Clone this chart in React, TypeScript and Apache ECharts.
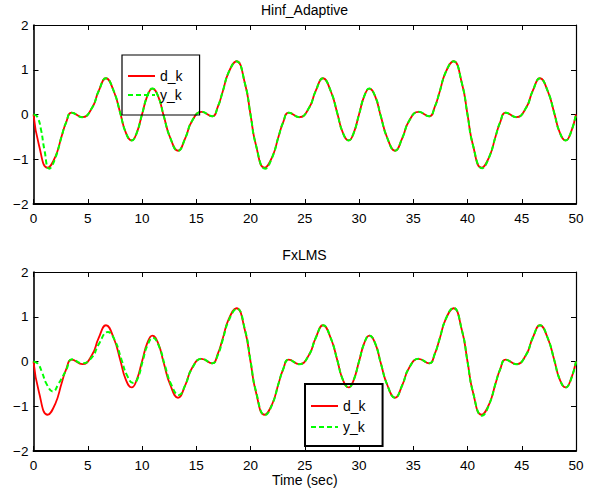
import React, { useEffect, useRef } from "react";
import * as echarts from "echarts";

// d_k sample times (s) and values (extrema included)
const D_T = [
  0, 0.5, 1.3, 2.0, 2.6, 3.0, 3.52, 4.5, 5.4, 6.0, 6.68, 7.4, 8.0, 8.5, 9.05, 9.5,
  10, 10.5, 10.95, 11.5, 12.0, 12.6, 13.32, 14.0, 14.6, 15.5, 16.48, 17.0, 17.4, 18.0, 18.7, 19.5,
  20, 20.5, 21.3, 22.0, 22.6, 23.0, 23.52, 24.5, 25.4, 26.0, 26.68, 27.4, 28.0, 28.5, 29.05, 29.5,
  30, 30.5, 30.95, 31.5, 32.0, 32.6, 33.32, 34.0, 34.6, 35.5, 36.48, 37.0, 37.4, 38.0, 38.7, 39.5,
  40, 40.5, 41.3, 42.0, 42.6, 43.0, 43.52, 44.5, 45.4, 46.0, 46.68, 47.4, 48.0, 48.5, 49.05, 49.5,
  50,
];
const D_V = [
  0, -0.68, -1.19, -0.95, -0.48, -0.18, 0.04, -0.06, 0.15, 0.52, 0.81, 0.52, 0.03, -0.4, -0.58, -0.42,
  0, 0.42, 0.58, 0.4, -0.03, -0.52, -0.81, -0.52, -0.15, 0.06, -0.04, 0.18, 0.48, 0.95, 1.19, 0.68,
  0, -0.68, -1.19, -0.95, -0.48, -0.18, 0.04, -0.06, 0.15, 0.52, 0.81, 0.52, 0.03, -0.4, -0.58, -0.42,
  0, 0.42, 0.58, 0.4, -0.03, -0.52, -0.81, -0.52, -0.15, 0.06, -0.04, 0.18, 0.48, 0.95, 1.19, 0.68,
  0, -0.68, -1.19, -0.95, -0.48, -0.18, 0.04, -0.06, 0.15, 0.52, 0.81, 0.52, 0.03, -0.4, -0.58, -0.42,
  0,
];

// y_k of the Hinf_Adaptive panel
const YH_T = [
  0, 0.35, 0.7, 1.0, 1.45, 2.0, 2.6, 3.0, 3.52, 4.5, 5.4, 6.0, 6.68, 7.4, 8.0, 8.5, 9.05, 9.5,
  10, 10.5, 10.95, 11.5, 12.0, 12.6, 13.32, 14.0, 14.6, 15.5, 16.48, 17.0, 17.4, 18.0, 18.7, 19.5,
  20, 20.5, 21.35, 22.0, 22.6, 23.0, 23.52, 24.5, 25.4, 26.0, 26.68, 27.4, 28.0, 28.5, 29.05, 29.5,
  30, 30.5, 30.95, 31.5, 32.0, 32.6, 33.32, 34.0, 34.6, 35.5, 36.48, 37.0, 37.4, 38.0, 38.7, 39.5,
  40, 40.5, 41.35, 42.0, 42.6, 43.0, 43.52, 44.5, 45.4, 46.0, 46.68, 47.4, 48.0, 48.5, 49.05, 49.5,
  50,
];
const YH_V = [
  0, -0.05, -0.35, -0.78, -1.21, -0.98, -0.48, -0.18, 0.04, -0.06, 0.15, 0.52, 0.81, 0.52, 0.03, -0.4, -0.58, -0.42,
  0, 0.42, 0.58, 0.4, -0.03, -0.52, -0.81, -0.52, -0.15, 0.06, -0.04, 0.18, 0.48, 0.95, 1.19, 0.68,
  0, -0.68, -1.21, -0.96, -0.48, -0.18, 0.04, -0.06, 0.15, 0.52, 0.81, 0.52, 0.03, -0.4, -0.58, -0.42,
  0, 0.42, 0.58, 0.4, -0.03, -0.52, -0.81, -0.52, -0.15, 0.06, -0.04, 0.18, 0.48, 0.95, 1.19, 0.68,
  0, -0.68, -1.2, -0.95, -0.48, -0.18, 0.04, -0.06, 0.15, 0.52, 0.81, 0.52, 0.03, -0.4, -0.58, -0.42,
  0,
];

// y_k of the FxLMS panel
const YF_T = [
  0, 0.4, 0.8, 1.2, 1.8, 2.3, 3.0, 3.55, 4.5, 5.4, 6.0, 6.85, 7.5, 8.1, 8.6, 9.2, 9.6,
  10.05, 10.5, 11.0, 11.6, 12.1, 12.7, 13.4, 14.0, 14.6, 15.5, 16.48, 17.0, 17.4, 18.0, 18.75, 19.5,
  20, 20.5, 21.35, 22.0, 22.6, 23.0, 23.52, 24.5, 25.4, 26.0, 26.7, 27.4, 28.0, 28.5, 29.05, 29.5,
  30, 30.5, 30.95, 31.5, 32.0, 32.6, 33.32, 34.0, 34.6, 35.5, 36.48, 37.0, 37.4, 38.0, 38.7, 39.5,
  40, 40.5, 41.35, 42.0, 42.6, 43.0, 43.52, 44.5, 45.4, 46.0, 46.7, 47.4, 48.0, 48.5, 49.05, 49.5,
  50,
];
const YF_V = [
  0, -0.05, -0.25, -0.5, -0.67, -0.5, -0.2, 0.05, -0.04, 0.1, 0.38, 0.66, 0.47, 0.05, -0.3, -0.48, -0.38,
  0, 0.36, 0.53, 0.32, -0.08, -0.52, -0.75, -0.52, -0.16, 0.06, -0.04, 0.15, 0.45, 0.92, 1.18, 0.7,
  0.02, -0.66, -1.2, -0.96, -0.48, -0.18, 0.04, -0.06, 0.15, 0.52, 0.81, 0.52, 0.03, -0.4, -0.58, -0.42,
  0, 0.42, 0.58, 0.4, -0.03, -0.52, -0.81, -0.52, -0.15, 0.06, -0.04, 0.18, 0.48, 0.95, 1.2, 0.68,
  0, -0.68, -1.21, -0.96, -0.48, -0.18, 0.04, -0.06, 0.15, 0.52, 0.81, 0.52, 0.03, -0.4, -0.58, -0.42,
  0,
];

const TITLES = ["Hinf_Adaptive", "FxLMS"];
const X_NAME = "Time (sec)";
const LEGEND_NAMES = ["d_k", "y_k"];

const FONT = "'Liberation Sans', Arial, Helvetica, sans-serif";

export default function App() {
  const ref = useRef<HTMLDivElement>(null);

  useEffect(() => {
    if (!ref.current) return;
    const chart = echarts.init(ref.current, undefined, { renderer: "svg" });

    const gridDefs = [
      { left: 33.5, top: 25, width: 542.5, height: 179 },
      { left: 33.5, top: 272, width: 542.5, height: 179 },
    ];

    const pair = (ts: number[], ys: number[]) => ts.map((t, i) => [t, ys[i]]);

    const xAxes: any[] = [];
    const yAxes: any[] = [];
    gridDefs.forEach((_, g) => {
      xAxes.push({
        type: "value",
        gridIndex: g,
        min: 0,
        max: 50,
        interval: 5,
        position: "bottom",
        axisLine: { show: true, onZero: false, lineStyle: { color: "#000", width: 1.8 } },
        axisTick: { show: true, inside: true, length: 5, lineStyle: { color: "#000", width: 1 } },
        axisLabel: { show: true, color: "#000", fontSize: 13.5, fontFamily: FONT, margin: 7 },
        splitLine: { show: false },
        name: g === 1 ? X_NAME : "",
        nameLocation: "middle",
        nameGap: 22,
        nameTextStyle: { color: "#000", fontSize: 14, fontFamily: FONT },
      });
      xAxes.push({
        type: "value",
        gridIndex: g,
        min: 0,
        max: 50,
        interval: 5,
        position: "top",
        axisLine: { show: true, onZero: false, lineStyle: { color: "#000", width: 1.2 } },
        axisTick: { show: true, inside: true, length: 5, lineStyle: { color: "#000", width: 1 } },
        axisLabel: { show: false },
        splitLine: { show: false },
      });
      yAxes.push({
        type: "value",
        gridIndex: g,
        min: -2,
        max: 2,
        interval: 1,
        position: "left",
        axisLine: { show: true, onZero: false, lineStyle: { color: "#000", width: 1.6 } },
        axisTick: { show: true, inside: true, length: 5, lineStyle: { color: "#000", width: 1 } },
        axisLabel: {
          show: true,
          color: "#000",
          fontSize: 13.5,
          fontFamily: FONT,
          margin: 5,
          formatter: (v: number) => (v < 0 ? "\u2212" + Math.abs(v) : String(v)),
        },
        splitLine: { show: false },
      });
      yAxes.push({
        type: "value",
        gridIndex: g,
        min: -2,
        max: 2,
        interval: 1,
        position: "right",
        axisLine: { show: true, onZero: false, lineStyle: { color: "#000", width: 1.2 } },
        axisTick: { show: true, inside: true, length: 5, lineStyle: { color: "#000", width: 1 } },
        axisLabel: { show: false },
        splitLine: { show: false },
      });
    });

    const yData = [pair(YH_T, YH_V), pair(YF_T, YF_V)];
    const dData = pair(D_T, D_V);
    const series: any[] = [];
    gridDefs.forEach((_, g) => {
      series.push({
        name: LEGEND_NAMES[0],
        type: "line",
        xAxisIndex: g * 2,
        yAxisIndex: g * 2,
        data: dData,
        smooth: 0.5,
        symbol: "none",
        showSymbol: false,
        lineStyle: { color: "#ff0000", width: 1.8 },
        itemStyle: { color: "#ff0000" },
        z: 2,
      });
      series.push({
        name: LEGEND_NAMES[1],
        type: "line",
        xAxisIndex: g * 2,
        yAxisIndex: g * 2,
        data: yData[g],
        smooth: 0.5,
        symbol: "none",
        showSymbol: false,
        lineStyle: { color: "#00ff00", width: 2, type: [5, 3] },
        itemStyle: { color: "#00ff00" },
        z: 3,
      });
    });

    const legendCommon = {
      orient: "vertical",
      itemWidth: 27,
      itemHeight: 14,
      backgroundColor: "transparent",
      borderColor: "#000",
      textStyle: { color: "#000", fontSize: 14, fontFamily: FONT },
      itemStyle: { opacity: 0 },
      data: LEGEND_NAMES,
      selectedMode: false,
    };

    chart.setOption({
      animation: false,
      backgroundColor: "#fff",
      grid: gridDefs,
      xAxis: xAxes,
      yAxis: yAxes,
      series,
      legend: [
        { ...legendCommon, left: 122, top: 55, itemGap: 5, padding: [14, 17, 13, 5], borderWidth: 1.2 },
        { ...legendCommon, left: 305, top: 384, itemGap: 7, padding: [15, 17, 12, 5], borderWidth: 2 },
      ],
      graphic: TITLES.map((t, i) => ({
        type: "text",
        x: 304.5,
        y: i === 0 ? 10 : 255,
        style: {
          text: t,
          textAlign: "center",
          align: "center",
          textVerticalAlign: "middle",
          verticalAlign: "middle",
          fontSize: 14,
          fontFamily: FONT,
          fill: "#000",
        },
      })),
    });

    return () => chart.dispose();
  }, []);

  return (
    <div
      ref={ref}
      style={{ position: "fixed", left: 0, top: 0, width: 597, height: 493 }}
    />
  );
}
